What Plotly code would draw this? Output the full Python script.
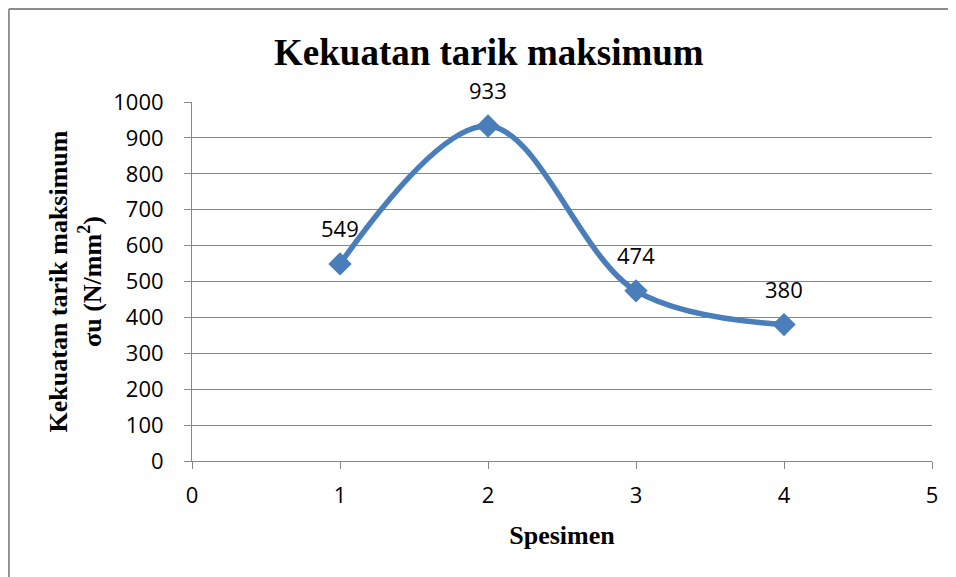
import plotly.graph_objects as go

# Tensile test results per specimen
spesimen = [1, 2, 3, 4]
kekuatan = [549, 933, 474, 380]

x_ticks = [0, 1, 2, 3, 4, 5]
y_ticks = [0, 100, 200, 300, 400, 500, 600, 700, 800, 900, 1000]

LINE_BLUE = "#4a7ebb"
GRID = "#878787"
BORDER = "#8c8c8c"
SERIF = "Liberation Serif, Times New Roman, serif"
SANS = "Open Sans, Liberation Sans, sans-serif"

fig = go.Figure()
fig.add_trace(
    go.Scatter(
        x=spesimen,
        y=kekuatan,
        mode="lines+markers",
        line=dict(color=LINE_BLUE, width=5.5, shape="spline", smoothing=1.0),
        marker=dict(symbol="diamond", size=18, color=LINE_BLUE),
        showlegend=False,
    )
)

for xv, yv in zip(spesimen, kekuatan):
    fig.add_annotation(
        x=xv, y=yv, text=str(yv), showarrow=False, yshift=36,
        font=dict(family=SANS, size=22, color="#000000"),
    )

# chart border: only the top and left edges are visible in the crop
fig.add_shape(
    type="line", xref="paper", yref="paper",
    x0=-0.2475, x1=1.1, y0=1.259, y1=1.259,
    line=dict(color=BORDER, width=2),
)
fig.add_shape(
    type="line", xref="paper", yref="paper",
    x0=-0.2475, x1=-0.2475, y0=-0.5, y1=1.259,
    line=dict(color=BORDER, width=2),
)

fig.update_xaxes(
    range=[0, 5], tickvals=x_ticks, showgrid=False,
    showline=True, linecolor=GRID, linewidth=1,
    ticks="outside", ticklen=7, tickcolor=GRID,
    ticklabelstandoff=8,
    tickfont=dict(family=SANS, size=22, color="#000000"),
    title=dict(text="<b>Spesimen</b>", font=dict(family=SERIF, size=26, color="#000000"), standoff=17),
    zeroline=False,
)
fig.update_yaxes(
    range=[0, 1000], tickvals=y_ticks, showgrid=True, gridcolor=GRID, gridwidth=1,
    showline=True, linecolor=GRID, linewidth=1,
    ticks="outside", ticklen=7, tickcolor=GRID,
    ticklabelstandoff=16,
    tickfont=dict(family=SANS, size=22, color="#000000"),
    title=dict(
        text="<b>Kekuatan tarik maksimum<br>σu (N/mm<sup>2</sup>)</b>",
        font=dict(family=SERIF, size=26, color="#000000"), standoff=4,
    ),
    zeroline=False,
)
fig.update_layout(
    width=956, height=577,
    margin=dict(l=184, r=32, t=94, b=124),
    paper_bgcolor="white", plot_bgcolor="white",
    title=dict(
        text="<b>Kekuatan tarik maksimum</b>",
        font=dict(family=SERIF, size=37, color="#000000"),
        x=0.503, xanchor="center", y=0.924, yanchor="middle",
    ),
)

fig.write_html("out.html")
